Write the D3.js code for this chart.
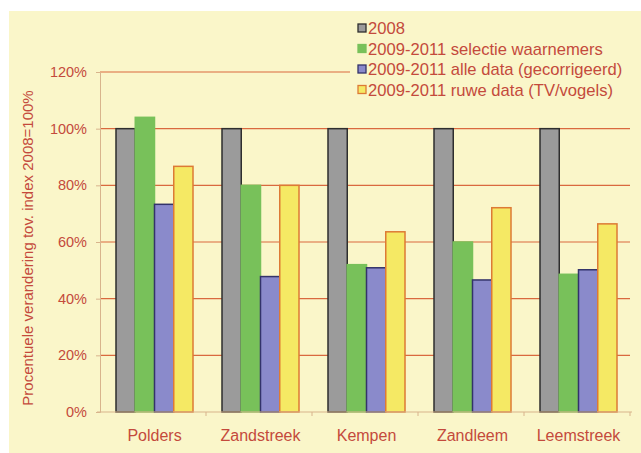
<!DOCTYPE html>
<html>
<head>
<meta charset="utf-8">
<script src="https://cdn.jsdelivr.net/npm/d3@7"></script>
<style>
  body { margin: 0; background: #fff; }
  text { font-family: Arial, "Liberation Sans", sans-serif; }
</style>
</head>
<body>
<svg id="chart"></svg>
<script>
'use strict'

// data
const categories = ['Polders', 'Zandstreek', 'Kempen', 'Zandleem', 'Leemstreek']
const seriesNames = ['2008', '2009-2011 selectie waarnemers', '2009-2011 alle data (gecorrigeerd)', '2009-2011 ruwe data (TV/vogels)']
const v2008 = [100, 100, 100, 100, 100]
const vSelectie = [104, 80, 52, 60, 48.6]
const vAlle = [73.3, 47.8, 50.9, 46.6, 50.2]
const vRuwe = [86.7, 80, 63.6, 72.1, 66.4]
const yTicks = [0, 20, 40, 60, 80, 100, 120]

const allSeries = [v2008, vSelectie, vAlle, vRuwe]
const fills = ['#9b9b9b', '#78c15a', '#8a8acb', '#f5e964']
const strokes = ['#2e2e2e', '#78c15a', '#33336a', '#dd7a35']
const textColor = '#c44a3c'
const gridColor = '#d9693f'
const axisColor = '#d8b48c'

const width = 641
const height = 453
const svg = d3.select('#chart').attr('width', width).attr('height', height)

// panel background
svg.append('rect').attr('x', 9).attr('y', 11).attr('width', width - 9).attr('height', height - 11)
  .attr('fill', '#faf6c9')

const x = d3.scaleBand().domain(categories).range([100, 630]).padding(0)
const xs = d3.scaleBand().domain(d3.range(4)).range([16, 93]) // bars inside a group
const y = d3.scaleLinear().domain([0, 120]).range([412, 72])

// gridlines
svg.append('g').selectAll('line')
  .data(yTicks.filter(d => d > 0))
  .enter().append('line')
    .attr('x1', 100).attr('x2', 630)
    .attr('y1', d => y(d)).attr('y2', d => y(d))
    .attr('stroke', gridColor).attr('stroke-width', 1.2)

// y axis
const yAxis = svg.append('g').attr('transform', 'translate(100,0)')
  .call(d3.axisLeft(y).tickValues(yTicks).tickFormat(d => d + '%').tickSize(4).tickPadding(9))
yAxis.select('.domain').attr('stroke', axisColor)
yAxis.selectAll('.tick line').attr('stroke', axisColor)
yAxis.selectAll('.tick text').attr('fill', textColor).style('font-size', '14.5px')
  .style('font-family', 'Arial, "Liberation Sans", sans-serif')

// bars
const group = svg.selectAll('g.grp')
  .data(categories)
  .enter().append('g').attr('class', 'grp')
    .attr('transform', d => 'translate(' + x(d) + ',0)')

group.selectAll('rect')
  .data((d, i) => allSeries.map((s, k) => ({ k: k, v: s[i] })))
  .enter().append('rect')
    .attr('x', d => xs(d.k))
    .attr('y', d => y(d.v))
    .attr('width', xs.bandwidth())
    .attr('height', d => y(0) - y(d.v))
    .attr('fill', d => fills[d.k])
    .attr('stroke', d => strokes[d.k])
    .attr('stroke-width', 1.5)

// x axis
const xAxis = svg.append('g').attr('transform', 'translate(0,' + y(0) + ')')
xAxis.append('line').attr('x1', 97).attr('x2', 632).attr('stroke', axisColor).attr('stroke-width', 1.2)
xAxis.selectAll('line.tk')
  .data(categories.map(c => x(c) + x.bandwidth()))
  .enter().append('line').attr('class', 'tk')
    .attr('x1', d => d).attr('x2', d => d).attr('y1', 0).attr('y2', 4)
    .attr('stroke', axisColor)
xAxis.selectAll('text')
  .data(categories)
  .enter().append('text')
    .attr('x', d => x(d) + 16 + 77 / 2)
    .attr('y', 29)
    .attr('text-anchor', 'middle')
    .attr('fill', textColor)
    .style('font-size', '16px')
    .text(d => d)

// y title
svg.append('text')
  .attr('transform', 'translate(33,248) rotate(-90)')
  .attr('text-anchor', 'middle')
  .attr('fill', textColor)
  .style('font-size', '15px')
  .text('Procentuele verandering tov. index 2008=100%')

// legend
const legend = svg.append('g')
legend.append('rect').attr('x', 350).attr('y', 14).attr('width', 291).attr('height', 88).attr('fill', '#faf6c9')
const item = legend.selectAll('g')
  .data(seriesNames)
  .enter().append('g')
    .attr('transform', (d, i) => 'translate(358,' + (28 + i * 20.5) + ')')
item.append('rect')
  .attr('x', 0).attr('y', -4).attr('width', 8).attr('height', 8)
  .attr('fill', (d, i) => fills[i])
  .attr('stroke', (d, i) => strokes[i])
  .attr('stroke-width', 1.3)
item.append('text')
  .attr('x', 10).attr('y', 6)
  .attr('fill', textColor)
  .style('font-size', '16.6px')
  .text(d => d)
</script>
</body>
</html>
